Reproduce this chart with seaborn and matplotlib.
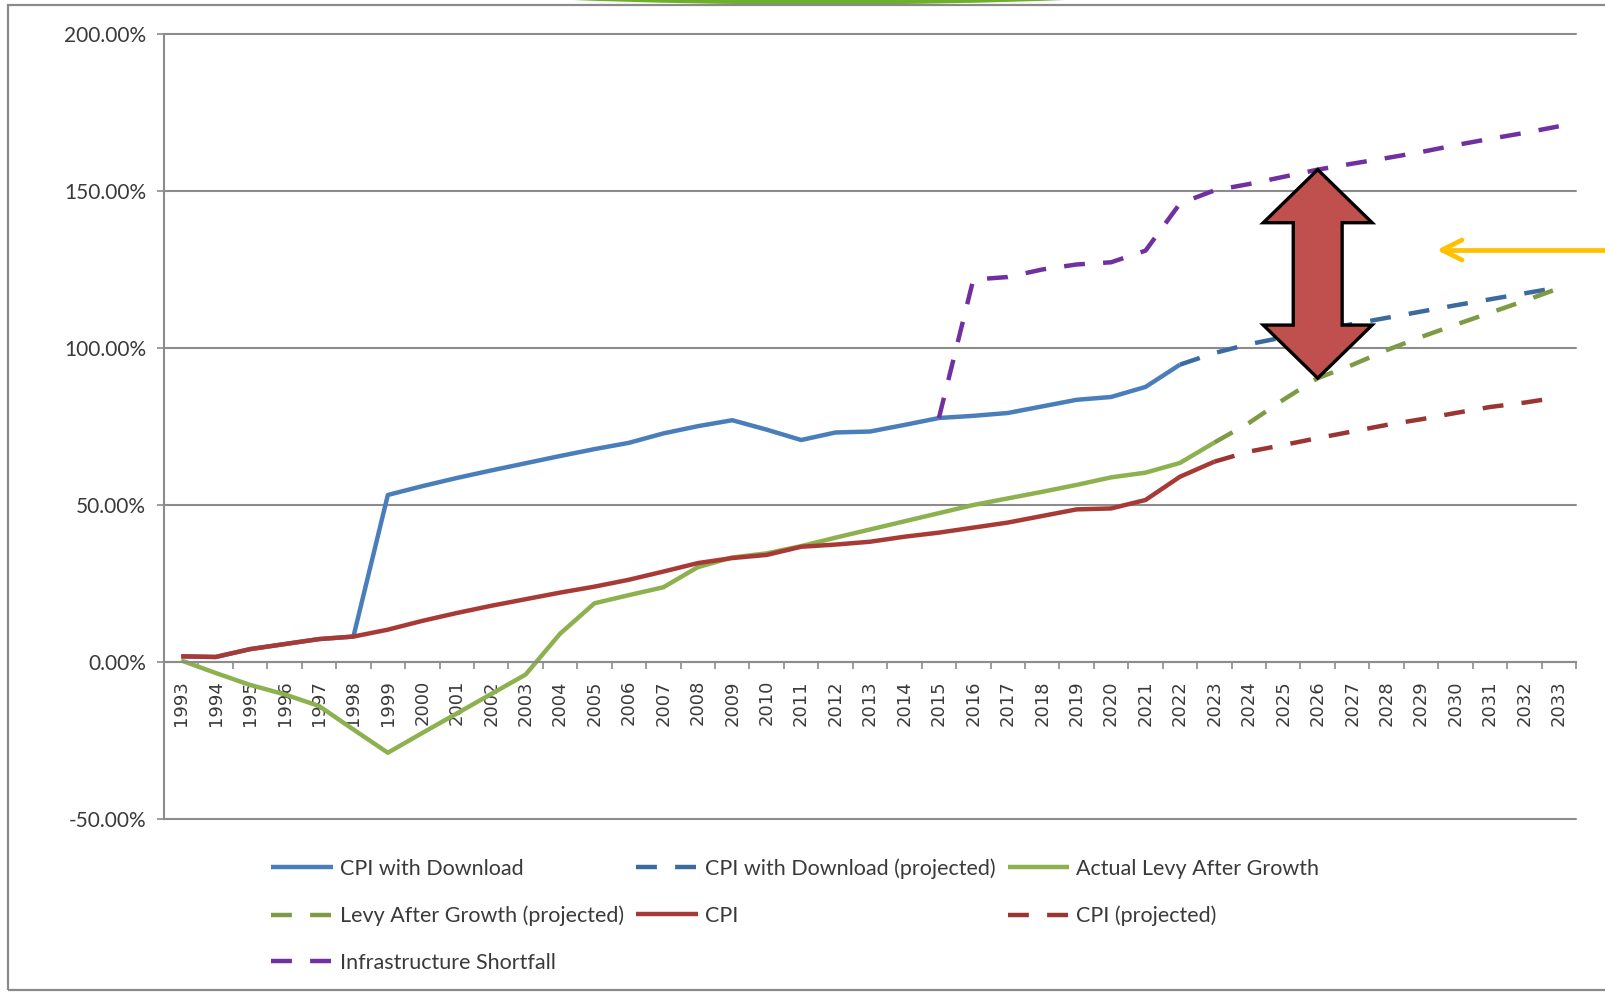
import matplotlib
matplotlib.use("Agg")
import matplotlib.pyplot as plt
import seaborn as sns
from matplotlib.patches import Polygon, Ellipse, Rectangle
from matplotlib.lines import Line2D
from matplotlib.ticker import FuncFormatter, FixedLocator

# ---- data (percent growth since 1993) ----
years_download = list(range(1993, 2023))
cpi_download = [1.8, 1.6, 4.1, 5.7, 7.3, 8.1, 53.2, 56.0, 58.6, 61.0, 63.3, 65.6,
                67.8, 69.8, 72.8, 75.1, 77.0, 74.0, 70.7, 73.1, 73.4, 75.5, 77.7,
                78.4, 79.3, 81.4, 83.5, 84.4, 87.6, 94.7]

years_download_proj = list(range(2022, 2034))
cpi_download_proj = [94.7, 98.4, 101.2, 103.4, 105.5, 107.6, 109.6, 111.6, 113.6,
                     115.5, 117.4, 119.3]

years_actual = list(range(1993, 2024))
levy_actual = [0.5, -3.5, -7.3, -10.3, -14.0, -21.5, -28.9, -22.6, -16.4, -10.2,
               -4.0, 9.0, 18.7, 21.3, 23.8, 30.2, 33.3, 34.6, 36.9, 39.6, 42.2,
               44.8, 47.4, 50.0, 52.1, 54.2, 56.4, 58.8, 60.3, 63.4, 69.9]

years_proj = list(range(2023, 2034))
levy_proj = [69.9, 76.1, 83.5, 90.4, 94.6, 99.3, 103.5, 107.4, 111.2, 115.0, 119.0]

cpi = [1.8, 1.6, 4.1, 5.7, 7.3, 8.1, 10.3, 13.1, 15.6, 17.9, 20.0, 22.1, 24.0,
       26.2, 28.8, 31.5, 33.1, 34.1, 36.7, 37.4, 38.3, 39.9, 41.2, 42.8, 44.4,
       46.5, 48.6, 48.9, 51.6, 59.0, 63.8]
cpi_proj = [63.8, 67.0, 69.1, 71.3, 73.4, 75.5, 77.3, 79.3, 81.2, 82.6, 84.3]

years_shortfall = list(range(2015, 2034))
shortfall = [77.7, 121.8, 122.6, 125.0, 126.6, 127.3, 131.0, 146.0, 150.2, 152.2,
             154.5, 156.8, 158.7, 160.5, 162.4, 164.6, 166.6, 168.5, 170.6]

all_years = list(range(1993, 2034))
y_ticks = [-50, 0, 50, 100, 150, 200]

labels = ["CPI with Download", "CPI with Download (projected)",
          "Actual Levy After Growth", "Levy After Growth (projected)",
          "CPI", "CPI (projected)", "Infrastructure Shortfall"]

BLUE = "#4A7EBB"
BLUE_D = "#3C6A9F"
GREEN = "#8DB14F"
GREEN_D = "#7D9B45"
RED = "#A83A36"
RED_D = "#9B3533"
PURPLE = "#7030A0"
GRID = "#8C8C8C"
TEXT = "#3A3A3A"

LW = 3.2
DASH = (4.7, 4.1)

sns.set_theme(style="white")
plt.rcParams["font.family"] = ["Lato", "DejaVu Sans"]

W, H = 1605, 993
fig = plt.figure(figsize=(W / 100, H / 100), dpi=100)
fig.patch.set_facecolor("white")

# decorative frame and green accent along the top edge
fig.patches.append(Ellipse((819 / W, 1 + (60 - 4.5) / H), 1300 / W, 120 / H,
                           transform=fig.transFigure, facecolor="#6DB02A",
                           edgecolor="none", zorder=0))
fig.patches.append(Rectangle((8 / W, 1 - 990 / H), 1.2, (990 - 5) / H,
                             transform=fig.transFigure, facecolor="none",
                             edgecolor="#8A8A8A", linewidth=1.6, zorder=1))

ax = fig.add_axes([164 / W, 1 - 819 / H, (1576 - 164) / W, (819 - 34) / H])
ax.set_facecolor("white")

series = [
    (years_download, cpi_download, BLUE, False),
    (years_download_proj, cpi_download_proj, BLUE_D, True),
    (years_actual, levy_actual, GREEN, False),
    (years_proj, levy_proj, GREEN_D, True),
    (years_actual, cpi, RED, False),
    (years_proj, cpi_proj, RED_D, True),
    (years_shortfall, shortfall, PURPLE, True),
]

handles = []
for (xs, ys, col, dashed), lab in zip(series, labels):
    kws = dict(x=xs, y=ys, ax=ax, color=col, linewidth=LW, legend=False,
               solid_joinstyle="round", solid_capstyle="butt")
    if dashed:
        kws["linestyle"] = (0, DASH)
        kws["dash_capstyle"] = "butt"
    sns.lineplot(**kws)
    handles.append(Line2D([], [], color=col, linewidth=LW,
                          linestyle=(0, DASH) if dashed else "-",
                          dash_capstyle="butt", solid_capstyle="butt"))

# axes styling
ax.set_xlim(1992.5, 2033.5)
ax.set_ylim(-50, 200)
ax.set_xlabel("")
ax.set_ylabel("")
for side in ("top", "right"):
    ax.spines[side].set_visible(False)
ax.spines["left"].set_color(GRID)
ax.spines["left"].set_linewidth(1.5)
ax.spines["bottom"].set_position(("data", 0))
ax.spines["bottom"].set_color(GRID)
ax.spines["bottom"].set_linewidth(1.5)

ax.yaxis.set_major_locator(FixedLocator(y_ticks))
ax.yaxis.set_major_formatter(FuncFormatter(lambda v, p: f"{v:.2f}%"))
ax.yaxis.grid(True, color=GRID, linewidth=1.5)
for gl in ax.get_ygridlines():
    gl.set_clip_on(False)
ax.tick_params(axis="y", which="major", left=True, length=5, width=1.2,
               color=GRID, pad=8, labelsize=15, labelcolor=TEXT)

ax.xaxis.set_major_locator(FixedLocator(all_years))
ax.xaxis.set_minor_locator(FixedLocator([y - 0.5 for y in all_years] + [2033.5]))
ax.set_xticklabels([str(y) for y in all_years], rotation=90,
                   family="DejaVu Sans", fontsize=13, color=TEXT)
ax.tick_params(axis="x", which="major", bottom=True, length=0, pad=13)
ax.tick_params(axis="x", which="minor", bottom=True, length=5, width=1.2,
               color=GRID)

# double arrow spanning the gap between the shortfall and projected levy in 2026
cx = 2026
top = shortfall[years_shortfall.index(cx)]
bot = levy_proj[years_proj.index(cx)]
hw, sw, hl = 1.58, 0.71, 16.9
arrow_pts = [(cx, top), (cx + hw, top - hl), (cx + sw, top - hl),
             (cx + sw, bot + hl), (cx + hw, bot + hl), (cx, bot),
             (cx - hw, bot + hl), (cx - sw, bot + hl), (cx - sw, top - hl),
             (cx - hw, top - hl)]
ax.add_patch(Polygon(arrow_pts, closed=True, facecolor="#C0504D",
                     edgecolor="black", linewidth=2.4, joinstyle="miter",
                     zorder=10, clip_on=False))

# gold pointer arrow at the right edge
tip_x, tip_y = 1442 / W, 1 - 250 / H
fig.lines.append(Line2D([tip_x, 1.0], [tip_y, tip_y], transform=fig.transFigure,
                        color="#FFC000", linewidth=3.4, solid_capstyle="round"))
fig.lines.append(Line2D([1462 / W, tip_x, 1462 / W],
                        [1 - 240 / H, tip_y, 1 - 260 / H],
                        transform=fig.transFigure, color="#FFC000",
                        linewidth=3.4, solid_capstyle="round",
                        solid_joinstyle="round"))

# legend laid out row by row in three columns
order = [0, 3, 6, 1, 4, 2, 5]
leg = fig.legend([handles[i] for i in order], [labels[i] for i in order],
                 ncol=3, loc="upper left", bbox_to_anchor=(271 / W, 1 - 858 / H),
                 frameon=False, fontsize=15.5, handlelength=2.86,
                 handletextpad=0.33, columnspacing=0.57, labelspacing=1.25,
                 borderpad=0, borderaxespad=0)
for t in leg.get_texts():
    t.set_color(TEXT)

fig.savefig("out.png", dpi=100, facecolor="white")
